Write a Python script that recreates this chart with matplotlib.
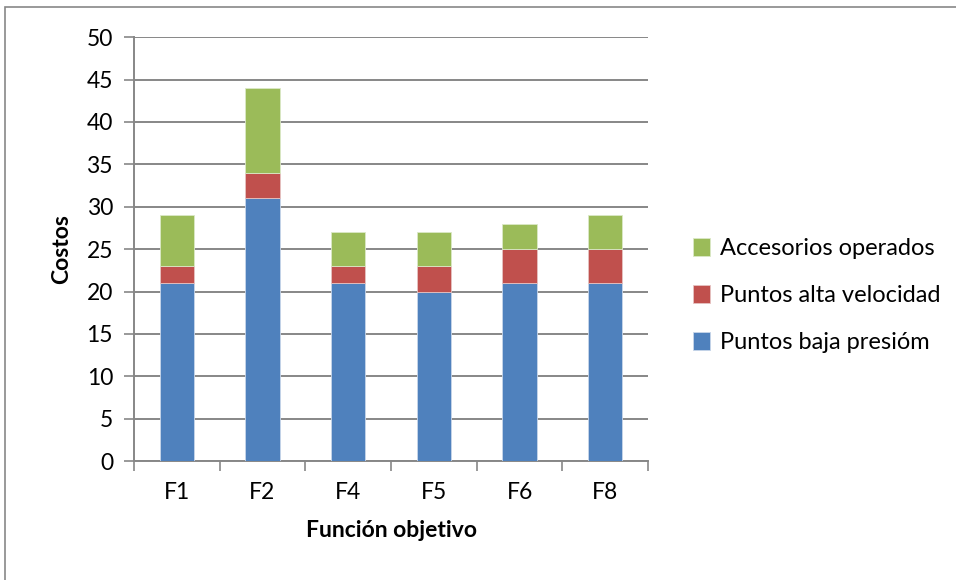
import numpy as np
import matplotlib.pyplot as plt
from matplotlib.patches import Rectangle

categories = ['F1', 'F2', 'F4', 'F5', 'F6', 'F8']
baja_presion = [21, 31, 21, 20, 21, 21]
alta_velocidad = [2, 3, 2, 3, 4, 4]
accesorios = [6, 10, 4, 4, 3, 4]

plt.rcParams['font.family'] = ['Lato', 'DejaVu Sans']
plt.rcParams['font.size'] = 16.5

fig = plt.figure(figsize=(9.56, 5.8), dpi=100)
ax = fig.add_axes([0.140, 0.205, 0.538, 0.731])

x = np.arange(len(categories))
b1 = np.array(baja_presion)
b2 = b1 + np.array(alta_velocidad)
grid_c = '#878787'

ax.bar(x, baja_presion, width=0.4, color='#4F81BD', edgecolor='#c8d6ea', linewidth=0.6,
       label='Puntos baja presióm', zorder=3)
ax.bar(x, alta_velocidad, width=0.4, bottom=b1, color='#C0504D', edgecolor='#e6c3c2', linewidth=0.6,
       label='Puntos alta velocidad', zorder=3)
ax.bar(x, accesorios, width=0.4, bottom=b2, color='#9BBB59', edgecolor='#dbe8c7', linewidth=0.6,
       label='Accesorios operados', zorder=3)

ax.set_xlim(-0.5, len(categories) - 0.5)
ax.set_ylim(0, 50)
ax.set_yticks(range(0, 51, 5))
ax.yaxis.grid(True, color=grid_c, linewidth=1.4, zorder=0)
ax.set_axisbelow(True)

# category labels centred, tick marks between categories
ax.set_xticks(x)
ax.set_xticklabels(categories)
ax.tick_params(axis='x', length=0, pad=15)
ax.set_xticks(np.arange(-0.5, len(categories)), minor=True)
ax.tick_params(axis='x', which='minor', length=7, color=grid_c, width=1.2)
ax.tick_params(axis='y', length=7, color=grid_c, width=1.2, pad=8)

for s in ['top', 'right']:
    ax.spines[s].set_visible(False)
for s in ['left', 'bottom']:
    ax.spines[s].set_color(grid_c)
    ax.spines[s].set_linewidth(1.4)

ax.set_xlabel('Función objetivo', fontweight='bold', labelpad=12)
ax.set_ylabel('Costos', fontweight='bold', labelpad=10)

handles, labels = ax.get_legend_handles_labels()
ax.legend(handles[::-1], labels[::-1], loc='center left', bbox_to_anchor=(1.045, 0.39),
          frameon=False, handlelength=0.75, handleheight=0.75, handletextpad=0.4,
          labelspacing=1.1, fontsize=17)

fig.patches.append(Rectangle((5 / 956, -0.01), 1.0, 1 - 7 / 580 + 0.01, transform=fig.transFigure,
                             fill=False, edgecolor=grid_c, linewidth=1.2))

fig.savefig('out.png', dpi=100)
